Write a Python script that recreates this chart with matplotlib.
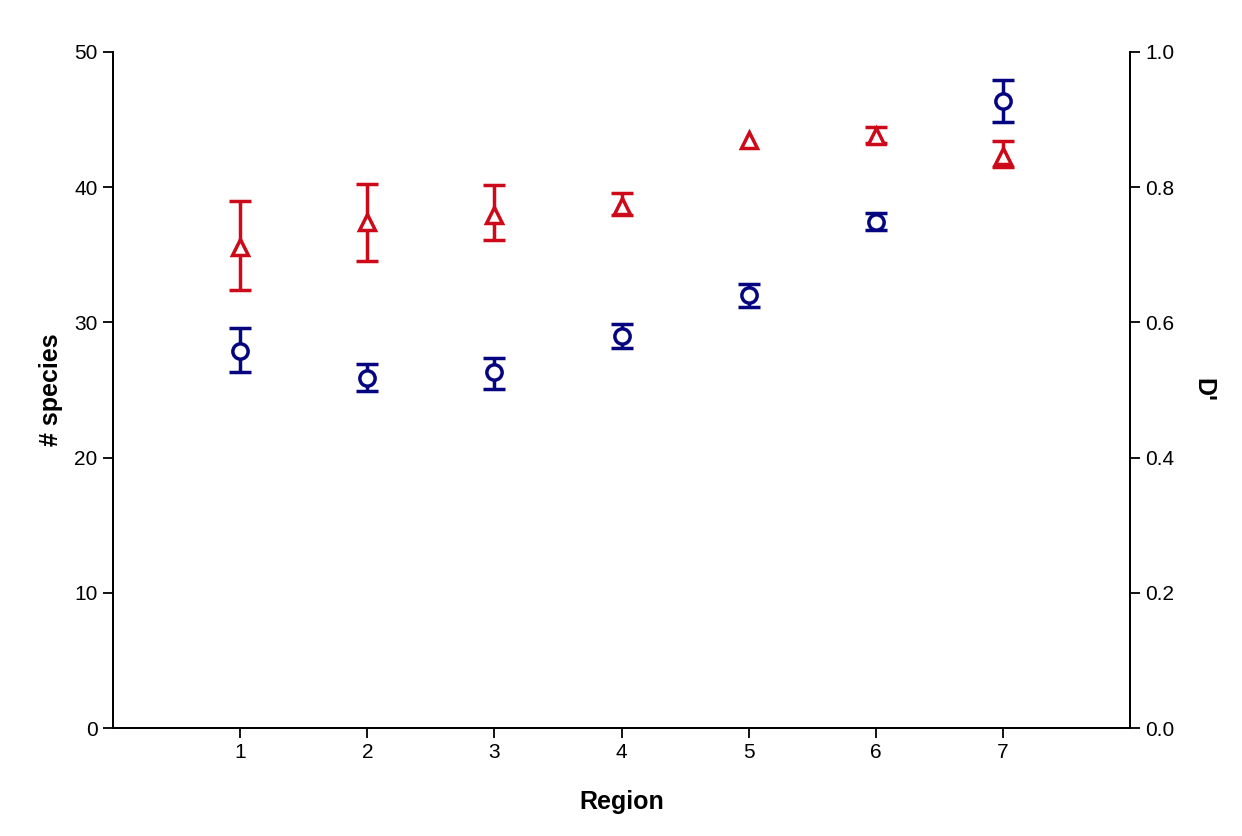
import matplotlib
matplotlib.use('Agg')
import matplotlib.pyplot as plt
import numpy as np

plt.rcParams['font.family'] = ['Liberation Sans', 'DejaVu Sans']

# Data
region = [1, 2, 3, 4, 5, 6, 7]

species = [27.9, 25.9, 26.3, 29.0, 32.0, 37.4, 46.4]
species_lo = [26.3, 24.9, 25.1, 28.1, 31.1, 36.8, 44.8]
species_hi = [29.6, 26.9, 27.4, 29.9, 32.8, 38.1, 47.9]

dprime = [0.711, 0.749, 0.759, 0.772, 0.870, 0.876, 0.846]
dprime_lo = [0.648, 0.691, 0.722, 0.759, 0.870, 0.865, 0.830]
dprime_hi = [0.780, 0.805, 0.803, 0.792, 0.870, 0.889, 0.868]

blue = '#050580'
red = '#cc0a1a'

fig = plt.figure(figsize=(12.42, 8.36), dpi=100)
ax = fig.add_axes([0.091, 0.129, 0.819, 0.809])
ax2 = ax.twinx()

style = dict(mfc='white', mew=2.5, ms=11, linestyle='none', zorder=4)
err_style = dict(fmt='none', elinewidth=2.5, capsize=8, capthick=2.5, zorder=3)

# species (left axis)
x = np.array(region)
sp = np.array(species)
sp_err = [sp - np.array(species_lo), np.array(species_hi) - sp]
ax.errorbar(x, sp, yerr=sp_err, ecolor=blue, **err_style)
ax.plot(x, sp, marker='o', color=blue, mec=blue, **style)

# D' (right axis), skip bars that are hidden by the marker
dp = np.array(dprime)
lo = np.array(dprime_lo)
hi = np.array(dprime_hi)
has_err = hi > lo
ax2.errorbar(x[has_err], dp[has_err],
             yerr=[dp[has_err] - lo[has_err], hi[has_err] - dp[has_err]],
             ecolor=red, **err_style)
ax2.plot(x, dp, marker='^', color=red, mec=red, **style)

ax.set_xlim(0, 8)
ax.set_ylim(0, 50)
ax2.set_ylim(0, 1.0)
ax.set_xticks(region)
ax.set_yticks(range(0, 51, 10))
ax2.set_yticks([0.0, 0.2, 0.4, 0.6, 0.8, 1.0])
ax2.set_yticklabels(['0.0', '0.2', '0.4', '0.6', '0.8', '1.0'])

for a in (ax, ax2):
    a.spines['top'].set_visible(False)
    for s in a.spines.values():
        s.set_linewidth(1.3)
    a.tick_params(direction='out', length=7, width=1.3, labelsize=15, pad=4)

ax.set_xlabel('Region', fontsize=18, fontweight='bold', labelpad=20)
ax.set_ylabel('# species', fontsize=18, fontweight='bold', labelpad=8)
ax2.set_ylabel("D'", fontsize=18, fontweight='bold', rotation=270,
               va='bottom', labelpad=12)

plt.savefig('out.png', dpi=100)
plt.close()
